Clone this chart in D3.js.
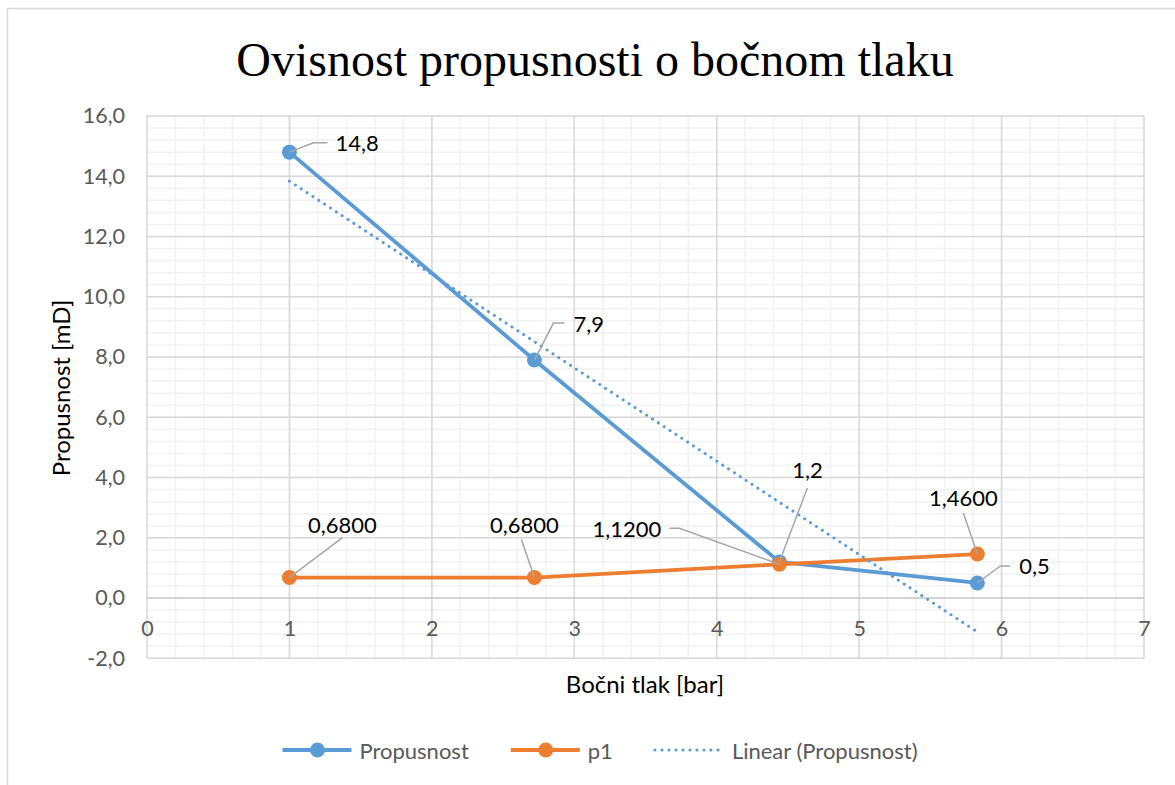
<!DOCTYPE html>
<html>
<head>
<meta charset="utf-8">
<script src="https://cdn.jsdelivr.net/npm/d3@7"></script>
<style>
  html, body { margin: 0; padding: 0; background: #fff; }
  svg { display: block; font-family: "Lato", "Open Sans", sans-serif; }
</style>
</head>
<body>
<svg id="chart" width="1175" height="785"></svg>
<script>
// Measured data
const bocniTlak = [1, 2.72, 4.44, 5.83];          // x values [bar]
const propusnost = [14.8, 7.9, 1.2, 0.5];          // Propusnost [mD]
const p1 = [0.68, 0.68, 1.12, 1.46];               // p1 series
const xTicks = [0, 1, 2, 3, 4, 5, 6, 7];
const yTicks = [-2, 0, 2, 4, 6, 8, 10, 12, 14, 16];
const seriesNames = ["Propusnost", "p1", "Linear (Propusnost)"];

const BLUE = "#5b9bd5", ORANGE = "#ed7d31";
const SANS = "Lato, 'Open Sans', sans-serif";

const loc = d3.formatLocale({ decimal: ",", thousands: ".", grouping: [3], currency: ["", ""], minus: "-" });
const fmt1 = loc.format(".1f");
const fmt4 = loc.format(".4f");

const svg = d3.select("#chart");
const W = 1175, H = 785;

// chart frame
svg.append("rect").attr("x", 7.5).attr("y", 8.5).attr("width", W).attr("height", H)
  .attr("fill", "#fff").attr("stroke", "#d9d9d9").attr("stroke-width", 1.5);

const plot = { left: 147, right: 1144, top: 116, bottom: 658.3 };
const x = d3.scaleLinear().domain([0, 7]).range([plot.left, plot.right]);
const y = d3.scaleLinear().domain([-2, 16]).range([plot.bottom, plot.top]);

// minor gridlines
const g = svg.append("g");
g.selectAll("line.mx").data(d3.range(0, 7.0001, 0.2)).join("line")
  .attr("x1", d => x(d)).attr("x2", d => x(d)).attr("y1", plot.top).attr("y2", plot.bottom)
  .attr("stroke", "#f2f2f2").attr("stroke-width", 1.5);
g.selectAll("line.my").data(d3.range(-2, 16.0001, 0.4)).join("line")
  .attr("y1", d => y(d)).attr("y2", d => y(d)).attr("x1", plot.left).attr("x2", plot.right)
  .attr("stroke", "#f2f2f2").attr("stroke-width", 1.5);
// major gridlines
g.selectAll("line.Mx").data(xTicks).join("line")
  .attr("x1", d => x(d)).attr("x2", d => x(d)).attr("y1", plot.top).attr("y2", plot.bottom)
  .attr("stroke", "#d9d9d9").attr("stroke-width", 1.5);
g.selectAll("line.My").data(yTicks).join("line")
  .attr("y1", d => y(d)).attr("y2", d => y(d)).attr("x1", plot.left).attr("x2", plot.right)
  .attr("stroke", d => d === 0 ? "#c8c8c8" : "#d9d9d9").attr("stroke-width", 1.5);

// axes (tick labels only)
const yAxis = d3.axisLeft(y).tickValues(yTicks).tickFormat(fmt1).tickSize(0).tickPadding(22);
svg.append("g").attr("transform", `translate(${plot.left},0)`).call(yAxis)
  .call(a => a.select(".domain").remove())
  .selectAll("text").style("font-size", "21.5px").style("font-family", SANS).attr("fill", "#595959");
const xAxis = d3.axisBottom(x).tickValues(xTicks).tickFormat(d3.format("d")).tickSize(0).tickPadding(23);
svg.append("g").attr("transform", `translate(0,${y(0)})`).call(xAxis)
  .call(a => a.select(".domain").remove())
  .selectAll("text").style("font-size", "21.5px").style("font-family", SANS).attr("fill", "#595959");

// series lines
const line = d3.line().x(d => x(d[0])).y(d => y(d[1]));
const blueData = bocniTlak.map((v, i) => [v, propusnost[i]]);
const orangeData = bocniTlak.map((v, i) => [v, p1[i]]);

svg.append("path").datum(blueData).attr("d", line).attr("fill", "none")
  .attr("stroke", BLUE).attr("stroke-width", 3.8).attr("stroke-linejoin", "round");
svg.append("g").selectAll("circle").data(blueData).join("circle")
  .attr("cx", d => x(d[0])).attr("cy", d => y(d[1])).attr("r", 7.5).attr("fill", BLUE);

// linear trendline (least squares on Propusnost)
const mx = d3.mean(bocniTlak), my = d3.mean(propusnost);
const slope = d3.sum(bocniTlak, (v, i) => (v - mx) * (propusnost[i] - my)) / d3.sum(bocniTlak, v => (v - mx) ** 2);
const icpt = my - slope * mx;
const trend = d3.extent(bocniTlak).map(v => [v, icpt + slope * v]);

svg.append("path").datum(orangeData).attr("d", line).attr("fill", "none")
  .attr("stroke", ORANGE).attr("stroke-width", 3.8).attr("stroke-linejoin", "round");
svg.append("g").selectAll("circle").data(orangeData).join("circle")
  .attr("cx", d => x(d[0])).attr("cy", d => y(d[1])).attr("r", 7.5).attr("fill", ORANGE);

svg.append("path").datum(trend).attr("d", line).attr("fill", "none")
  .attr("stroke", BLUE).attr("stroke-width", 3).attr("stroke-linecap", "round")
  .attr("stroke-dasharray", "0.1 6.9");

// data labels with leader lines: offsets relative to the marker
// leader: points after the marker; text: [dx, dy, anchor]
const labelLayout = [
  { s: 0, i: 0, leader: [[24, -9.4], [38, -9.4]], text: [46, -9.4, "start"] },
  { s: 0, i: 1, leader: [[19, -37], [30, -37]], text: [39, -37, "start"] },
  { s: 0, i: 2, leader: [[28, -74]], text: [28, -92, "middle"] },
  { s: 0, i: 3, leader: [[23, -17], [33, -17]], text: [42, -17, "start"] },
  { s: 1, i: 0, leader: [[53, -40]], text: [53, -53, "middle"] },
  { s: 1, i: 1, leader: [[-13, -38]], text: [-10, -53, "middle"] },
  { s: 1, i: 2, leader: [[-100, -36], [-110, -36]], text: [-118, -36, "end"] },
  { s: 1, i: 3, leader: [[-14, -41]], text: [-14, -57, "middle"] }
];
const seriesVals = [propusnost, p1];
const seriesFmt = [fmt1, fmt4];
const lg = svg.append("g");
labelLayout.forEach(L => {
  const px = x(bocniTlak[L.i]), py = y(seriesVals[L.s][L.i]);
  const pts = [[px, py]].concat(L.leader.map(o => [px + o[0], py + o[1]]));
  lg.append("path").attr("d", d3.line()(pts)).attr("fill", "none")
    .attr("stroke", "#a6a6a6").attr("stroke-width", 1.5);
  lg.append("text").attr("x", px + L.text[0]).attr("y", py + L.text[1])
    .attr("text-anchor", L.text[2]).attr("dominant-baseline", "central")
    .style("font-size", "22px").attr("fill", "#000")
    .text(seriesFmt[L.s](seriesVals[L.s][L.i]));
});

// title
svg.append("text").attr("x", 595).attr("y", 76).attr("text-anchor", "middle")
  .style("font-family", "'Liberation Serif', 'Times New Roman', serif").style("font-size", "48px")
  .attr("fill", "#000").text("Ovisnost propusnosti o bočnom tlaku");

// axis titles
svg.append("text").attr("x", 645).attr("y", 683).attr("text-anchor", "middle")
  .attr("dominant-baseline", "central").style("font-size", "24px").attr("fill", "#000")
  .text("Bočni tlak [bar]");
svg.append("text").attr("transform", "translate(60,388) rotate(-90)").attr("text-anchor", "middle")
  .attr("dominant-baseline", "central").style("font-size", "24px").attr("fill", "#000")
  .text("Propusnost [mD]");

// legend
const legend = svg.append("g");
const legY = 750;
const items = seriesNames.map((n, k) => ({ name: n, color: k === 1 ? ORANGE : BLUE, dotted: k === 2, marker: k < 2 }));
let cx = 0;
items.forEach(it => {
  const gi = legend.append("g").attr("transform", `translate(${cx},0)`);
  gi.append("line").attr("x1", 0).attr("x2", 69).attr("y1", legY).attr("y2", legY)
    .attr("stroke", it.color).attr("stroke-width", it.dotted ? 3 : 3.8)
    .attr("stroke-linecap", it.dotted ? "round" : "butt")
    .attr("stroke-dasharray", it.dotted ? "0.1 6.9" : null);
  if (it.marker) gi.append("circle").attr("cx", 35).attr("cy", legY).attr("r", 7.5).attr("fill", it.color);
  const t = gi.append("text").attr("x", 77).attr("y", legY).attr("dominant-baseline", "central")
    .style("font-size", "22px").attr("fill", "#595959").text(it.name);
  cx += 77 + t.node().getComputedTextLength() + 42;
});
const total = cx - 42;
legend.attr("transform", `translate(${600 - total / 2},0)`);
</script>
</body>
</html>
